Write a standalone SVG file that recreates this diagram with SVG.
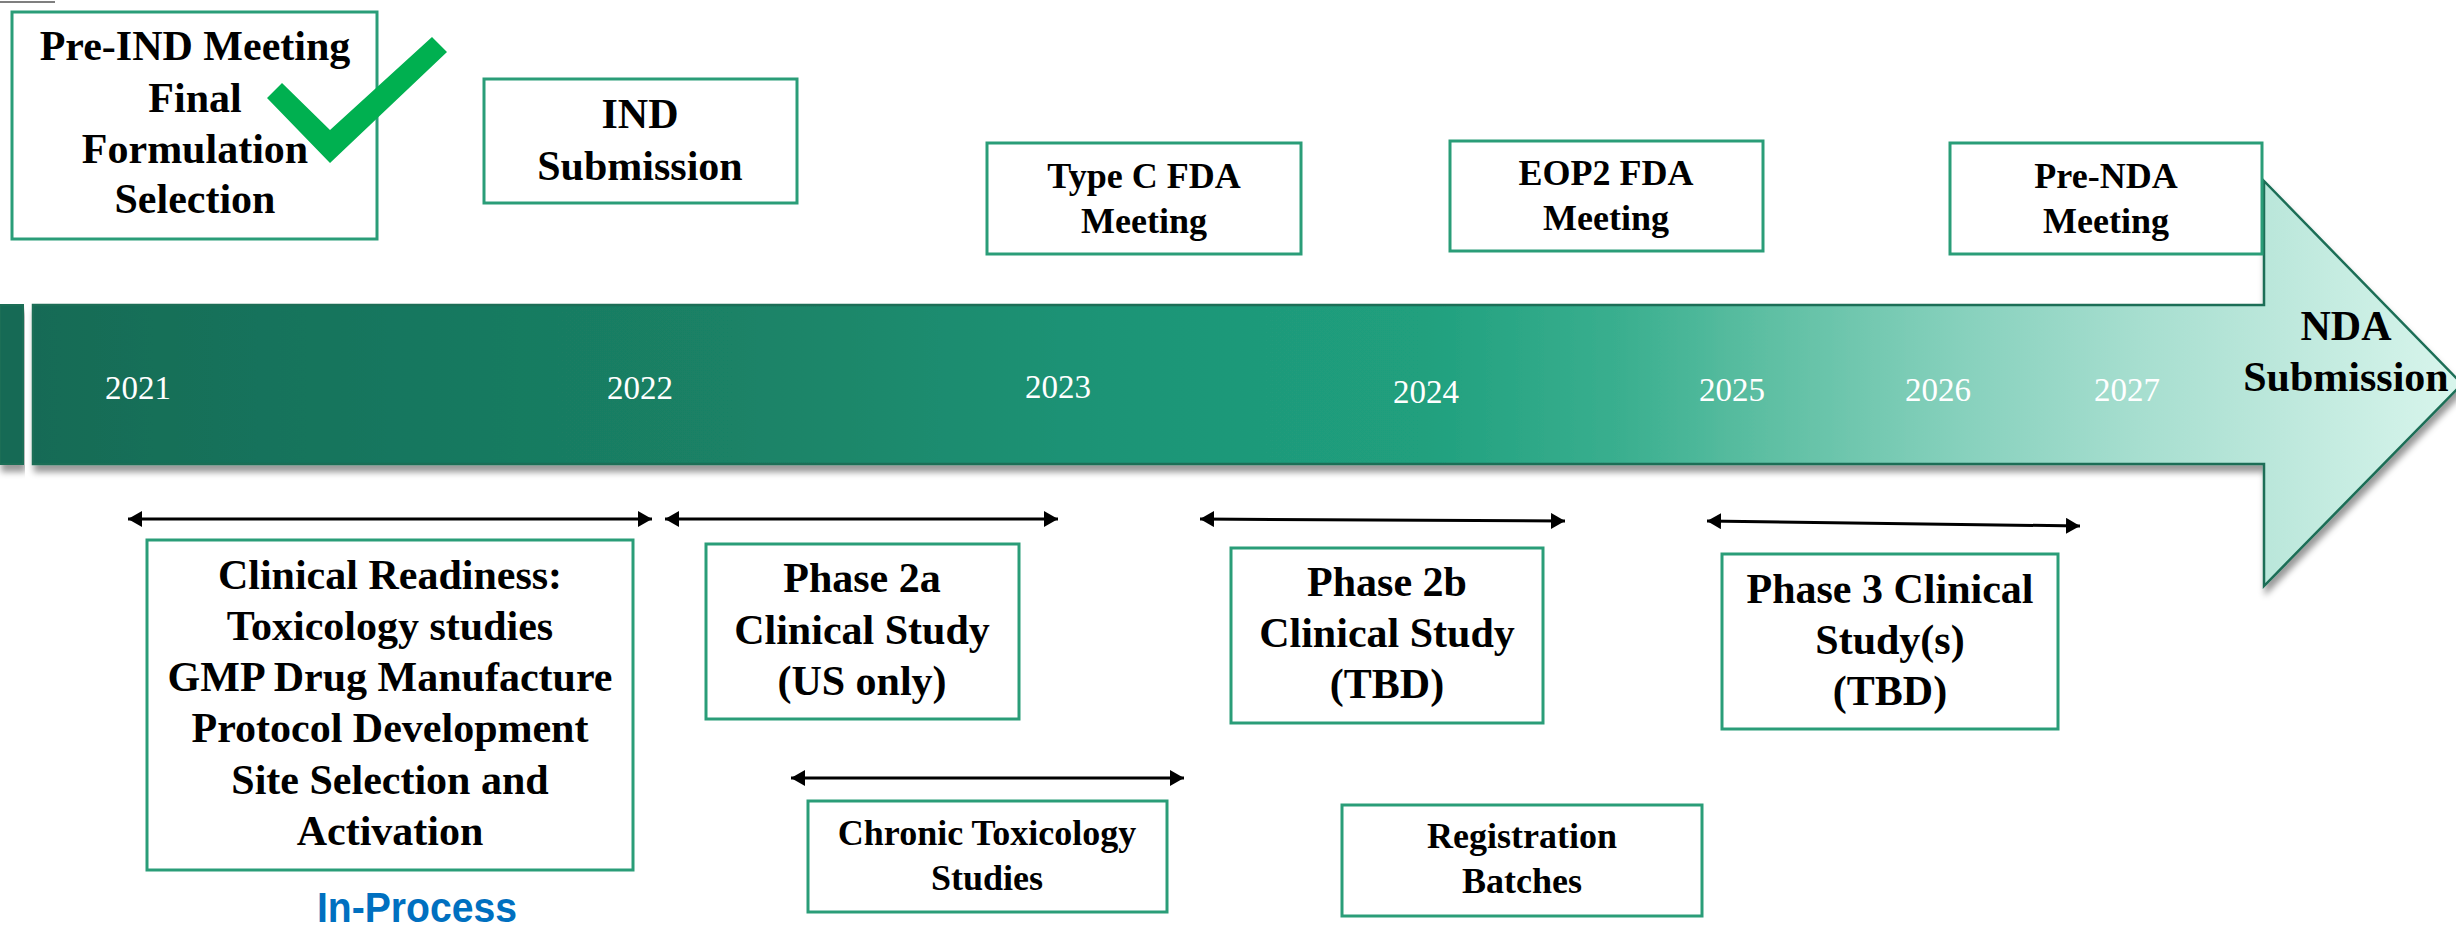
<svg xmlns="http://www.w3.org/2000/svg" width="2456" height="928" viewBox="0 0 2456 928">
<style>
.box{fill:#fff;stroke:#2A9D78;stroke-width:3}
.t{font-family:"Liberation Serif","Times New Roman",serif;font-weight:bold;fill:#000;text-anchor:middle}
.big{font-size:42px}
.sm{font-size:36px}
.yr{font-family:"Liberation Serif","Times New Roman",serif;font-size:33px;fill:#fff;text-anchor:middle}
.conn{stroke:#000;stroke-width:3;fill:none;marker-start:url(#ah);marker-end:url(#ah)}
</style>
<defs>
<linearGradient id="bar" gradientUnits="userSpaceOnUse" x1="0" y1="0" x2="2456" y2="0">
<stop offset="0" stop-color="#166A55"/>
<stop offset="0.3" stop-color="#1A8266"/>
<stop offset="0.45" stop-color="#1E9476"/>
<stop offset="0.58" stop-color="#20A07E"/>
<stop offset="0.66" stop-color="#3AAF8F"/>
<stop offset="0.72" stop-color="#5EBFA3"/>
<stop offset="0.8" stop-color="#87D1BD"/>
<stop offset="0.87" stop-color="#A6DECF"/>
<stop offset="0.93" stop-color="#BDE8DC"/>
<stop offset="1" stop-color="#D8F5EC"/>
</linearGradient>
<filter id="sh" x="-5%" y="-20%" width="110%" height="150%">
<feDropShadow dx="2" dy="7" stdDeviation="3" flood-color="#000" flood-opacity="0.4"/>
</filter>
<marker id="ah" viewBox="0 0 14 16" refX="14" refY="8" markerWidth="14" markerHeight="16" markerUnits="userSpaceOnUse" orient="auto-start-reverse">
<path d="M0,0 L14,8 L0,16 Z" fill="#000"/>
</marker>
</defs>
<rect width="2456" height="928" fill="#fff"/>
<line x1="0" y1="2" x2="55" y2="2" stroke="#555" stroke-width="1.5"/>

<g id="timeline">
<rect x="0" y="305" width="23" height="159" fill="#166A55" stroke="#1B6E57" stroke-width="2" filter="url(#sh)"/>
<path d="M33,305 L2264,305 L2264,181 L2462,384 L2264,586 L2264,464 L33,464 Z" fill="url(#bar)" stroke="#1B6E57" stroke-width="2.5" filter="url(#sh)"/>
<text class="yr" x="138" y="399">2021</text>
<text class="yr" x="640" y="399">2022</text>
<text class="yr" x="1058" y="398">2023</text>
<text class="yr" x="1426" y="403">2024</text>
<text class="yr" x="1732" y="401">2025</text>
<text class="yr" x="1938" y="401">2026</text>
<text class="yr" x="2127" y="401">2027</text>
<text class="t big" x="2346" y="340">NDA</text>
<text class="t big" x="2346" y="391">Submission</text>
</g>

<g id="connectors">
<line class="conn" x1="128" y1="519" x2="652" y2="519"/>
<line class="conn" x1="665" y1="519" x2="1058" y2="519"/>
<line class="conn" x1="791" y1="778" x2="1184" y2="778"/>
<line class="conn" x1="1200" y1="519" x2="1565" y2="521"/>
<line class="conn" x1="1707" y1="521" x2="2080" y2="526"/>
</g>

<g id="pre-ind">
<rect class="box" x="12" y="12" width="365" height="227"/>
<text class="t big" x="195" y="60">Pre-IND Meeting</text>
<text class="t big" x="195" y="112">Final</text>
<text class="t big" x="195" y="163">Formulation</text>
<text class="t big" x="195" y="213">Selection</text>
<polygon points="267,98 282,83 330,130 432,37 447,52 330,163" fill="#00B050"/>
</g>

<g id="ind-submission">
<rect class="box" x="484" y="79" width="313" height="124"/>
<text class="t big" x="640" y="128">IND</text>
<text class="t big" x="640" y="180">Submission</text>
</g>

<g id="type-c">
<rect class="box" x="987" y="143" width="314" height="111"/>
<text class="t sm" x="1144" y="188">Type C FDA</text>
<text class="t sm" x="1144" y="233">Meeting</text>
</g>

<g id="eop2">
<rect class="box" x="1450" y="141" width="313" height="110"/>
<text class="t sm" x="1606" y="185">EOP2 FDA</text>
<text class="t sm" x="1606" y="230">Meeting</text>
</g>

<g id="pre-nda">
<rect class="box" x="1950" y="143" width="312" height="111"/>
<text class="t sm" x="2106" y="188">Pre-NDA</text>
<text class="t sm" x="2106" y="233">Meeting</text>
</g>

<g id="clinical-readiness">
<rect class="box" x="147" y="540" width="486" height="330"/>
<text class="t big" x="390" y="589">Clinical Readiness:</text>
<text class="t big" x="390" y="640">Toxicology studies</text>
<text class="t big" x="390" y="691">GMP Drug Manufacture</text>
<text class="t big" x="390" y="742">Protocol Development</text>
<text class="t big" x="390" y="794">Site Selection and</text>
<text class="t big" x="390" y="845">Activation</text>
</g>

<g id="in-process">
<text x="417" y="922" font-family="Liberation Sans, Arial, sans-serif" font-weight="bold" font-size="42" fill="#0070C0" text-anchor="middle" textLength="200" lengthAdjust="spacingAndGlyphs">In-Process</text>
</g>

<g id="phase-2a">
<rect class="box" x="706" y="544" width="313" height="175"/>
<text class="t big" x="862" y="592">Phase 2a</text>
<text class="t big" x="862" y="644">Clinical Study</text>
<text class="t big" x="862" y="695">(US only)</text>
</g>

<g id="chronic-tox">
<rect class="box" x="808" y="801" width="359" height="111"/>
<text class="t sm" x="987" y="845">Chronic Toxicology</text>
<text class="t sm" x="987" y="890">Studies</text>
</g>

<g id="phase-2b">
<rect class="box" x="1231" y="548" width="312" height="175"/>
<text class="t big" x="1387" y="596">Phase 2b</text>
<text class="t big" x="1387" y="647">Clinical Study</text>
<text class="t big" x="1387" y="698">(TBD)</text>
</g>

<g id="phase-3">
<rect class="box" x="1722" y="554" width="336" height="175"/>
<text class="t big" x="1890" y="603">Phase 3 Clinical</text>
<text class="t big" x="1890" y="654">Study(s)</text>
<text class="t big" x="1890" y="705">(TBD)</text>
</g>

<g id="registration">
<rect class="box" x="1342" y="805" width="360" height="111"/>
<text class="t sm" x="1522" y="848">Registration</text>
<text class="t sm" x="1522" y="893">Batches</text>
</g>
</svg>
